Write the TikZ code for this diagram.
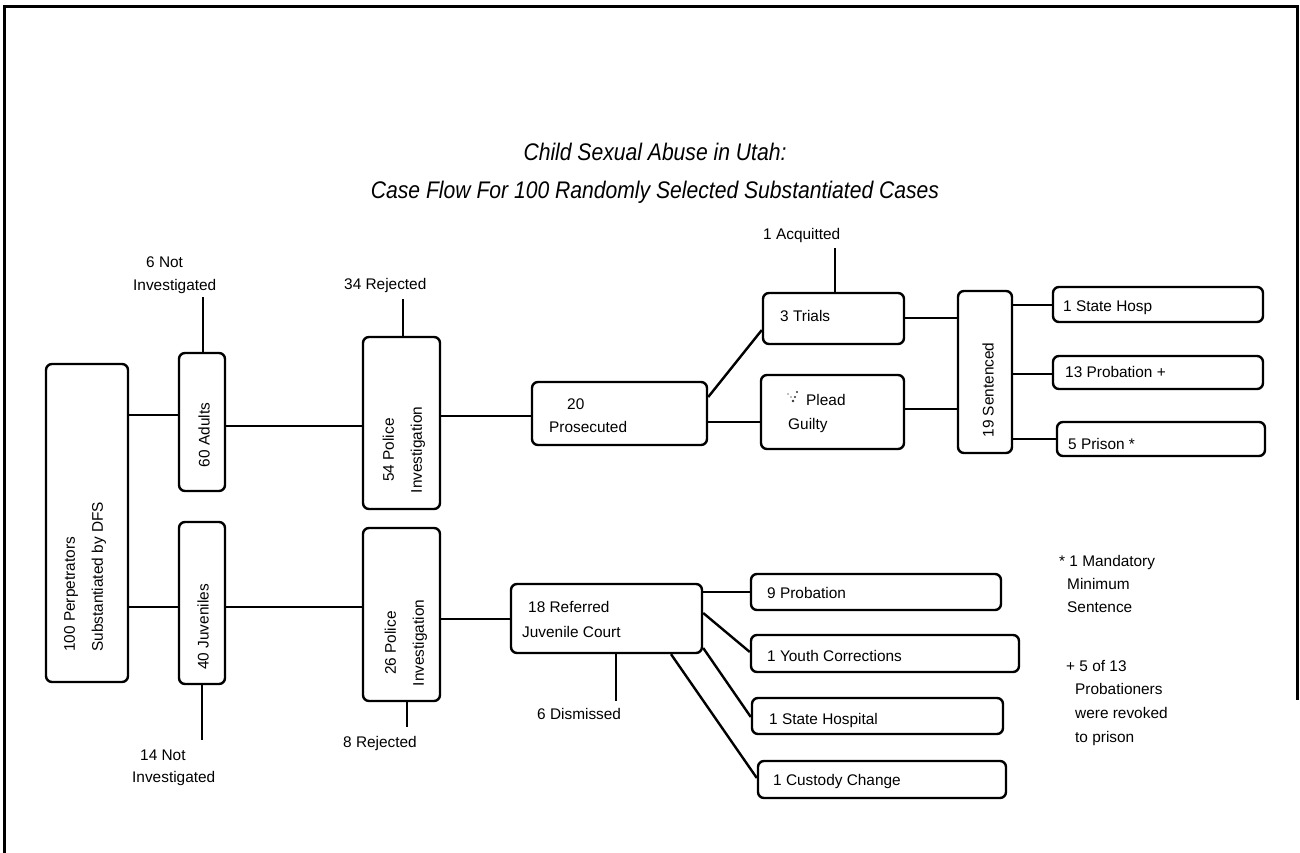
\documentclass[tikz,border=0pt]{standalone}
\usepackage{fontspec}
\setmainfont{Liberation Sans}
\usepackage{graphicx}
\begin{document}
\begin{tikzpicture}[x=1pt,y=-1pt,
  box/.style={draw, line width=2.4pt, rounded corners=6pt, inner sep=0pt},
  lbl/.style={inner sep=0pt, font=\fontsize{15.4}{18}\selectfont, text height=11pt, text depth=3pt},
  rlbl/.style={inner sep=0pt, font=\fontsize{15.4}{28}\selectfont, rotate=90, align=center},
  ttl/.style={inner sep=0pt, font=\fontsize{24}{28}\selectfont\itshape},
  con/.style={line width=2.4pt},
  frame/.style={line width=3pt}]
\useasboundingbox (0,0) rectangle (1300,853);
% frame
\coordinate (fa) at (4,853);
\coordinate (fb) at (4,7);
\coordinate (fc) at (1297,7);
\coordinate (fd) at (1297,700);
\draw[frame] (fa) -- (fb) -- (fc) -- (fd);

% title
\node[ttl] (t1) at (655,152) {\scalebox{0.88}[1]{Child Sexual Abuse in Utah:}};
\node[ttl] (t2) at (655,192) {\scalebox{0.88}[1]{Case Flow For 100 Randomly Selected Substantiated Cases}};

% boxes
\node[box, minimum width=82, minimum height=318] (perp) at (87,523) {};
\node[box, minimum width=46, minimum height=138] (adults) at (202,422) {};
\node[box, minimum width=46, minimum height=162] (juv) at (202,603) {};
\node[box, minimum width=77, minimum height=172] (pol1) at (401.5,423) {};
\node[box, minimum width=77, minimum height=173] (pol2) at (401.5,614.5) {};
\node[box, minimum width=175, minimum height=63] (pros) at (619.5,413.5) {};
\node[box, minimum width=141, minimum height=51] (trials) at (833.5,318.5) {};
\node[box, minimum width=143, minimum height=74] (plead) at (832.5,412) {};
\node[box, minimum width=54, minimum height=162] (sent) at (985,372) {};
\node[box, minimum width=210, minimum height=35] (hosp) at (1158,304.5) {};
\node[box, minimum width=210, minimum height=33] (prob) at (1158,372.5) {};
\node[box, minimum width=208, minimum height=34] (prison) at (1161,439) {};
\node[box, minimum width=191, minimum height=69] (juvc) at (606.5,618.5) {};
\node[box, minimum width=250, minimum height=36] (jprob) at (876,592) {};
\node[box, minimum width=268, minimum height=37] (youth) at (885,653.5) {};
\node[box, minimum width=251, minimum height=36] (shosp) at (877.5,716) {};
\node[box, minimum width=248, minimum height=37] (cust) at (882,779.5) {};

% rotated labels
\node[rlbl, align=left, anchor=west] (perpT) at (85,652) {100 Perpetrators\\Substantiated by DFS};
\node[rlbl] (adultsT) at (204,435) {60 Adults};
\node[rlbl] (juvT) at (203,627) {40 Juveniles};
\node[rlbl] (pol1T) at (404,450) {54 Police\\Investigation};
\node[rlbl] (pol2T) at (406,643) {26 Police\\Investigation};
\node[rlbl] (sentT) at (988,390) {19 Sentenced};

% box labels
\node[lbl, anchor=west] (prosA) at (567,405) {20};
\node[lbl, anchor=west] (prosB) at (549,428) {Prosecuted};
\node[lbl, anchor=west] (trialsT) at (780,317) {3 Trials};
\node[lbl, anchor=west] (pleadA) at (806,401) {Plead};
\node[lbl, anchor=west] (pleadB) at (788,425) {Guilty};
\node[lbl, anchor=west] (hospT) at (1063,307) {1 State Hosp};
\node[lbl, anchor=west] (probT) at (1065,373) {13 Probation +};
\node[lbl, anchor=west] (prisonT) at (1068,445) {5 Prison *};
\node[lbl, anchor=west] (juvcA) at (528,608) {18 Referred};
\node[lbl, anchor=west] (juvcB) at (522,633) {Juvenile Court};
\node[lbl, anchor=west] (jprobT) at (767,594) {9 Probation};
\node[lbl, anchor=west] (youthT) at (767,657) {1 Youth Corrections};
\node[lbl, anchor=west] (shospT) at (769,720) {1 State Hospital};
\node[lbl, anchor=west] (custT) at (773,781) {1 Custody Change};

% smudge in front of Plead
\fill[gray] (788,394) circle (0.9);
\fill[gray] (791,397) circle (0.8);
\fill[black!80] (797,392) circle (1.1);
\fill[black!80] (795,397) circle (1.1);
\fill[black!80] (793,401) circle (1.3);

% side labels
\node[lbl, anchor=west] (na1) at (146,263) {6 Not};
\node[lbl, anchor=west] (na2) at (133,286) {Investigated};
\node[lbl, anchor=west] (rej1) at (344,285) {34 Rejected};
\node[lbl, anchor=west] (acq) at (763,235) {1 Acquitted};
\node[lbl, anchor=west] (nb1) at (140,756) {14 Not};
\node[lbl, anchor=west] (nb2) at (132,778) {Investigated};
\node[lbl, anchor=west] (rej2) at (343,743) {8 Rejected};
\node[lbl, anchor=west] (dism) at (537,715) {6 Dismissed};

% footnotes
\node[lbl, anchor=west] (f1) at (1059,562) {* 1 Mandatory};
\node[lbl, anchor=west] (f2) at (1067,585) {Minimum};
\node[lbl, anchor=west] (f3) at (1067,608) {Sentence};
\node[lbl, anchor=west] (f4) at (1066,667) {+ 5 of 13};
\node[lbl, anchor=west] (f5) at (1075,690) {Probationers};
\node[lbl, anchor=west] (f6) at (1075,714) {were revoked};
\node[lbl, anchor=west] (f7) at (1075,738) {to prison};

% stub end points
\coordinate (sa) at (203,297);
\coordinate (sb) at (403,299);
\coordinate (sc) at (835,248);
\coordinate (sd) at (202,740);
\coordinate (se) at (407,727);
\coordinate (sf) at (616,701);

% connectors
\draw[con] (perp.east |- 0,415) -- (adults.west |- 0,415);
\draw[con] (perp.east |- 0,607) -- (juv.west |- 0,607);
\draw[con] (adults.east |- 0,426) -- (pol1.west |- 0,426);
\draw[con] (juv.east |- 0,607) -- (pol2.west |- 0,607);
\draw[con] (pol1.east |- 0,416) -- (pros.west |- 0,416);
\draw[con] (pol2.east |- 0,619) -- (juvc.west |- 0,619);
\draw[con] (pros.east |- 0,397) -- (trials.west |- 0,330);
\draw[con] (pros.east |- 0,422) -- (plead.west |- 0,422);
\draw[con] (trials.east |- 0,318) -- (sent.west |- 0,318);
\draw[con] (plead.east |- 0,409) -- (sent.west |- 0,409);
\draw[con] (sent.east |- 0,305) -- (hosp.west |- 0,305);
\draw[con] (sent.east |- 0,374) -- (prob.west |- 0,374);
\draw[con] (sent.east |- 0,439) -- (prison.west |- 0,439);
\draw[con] (juvc.east |- 0,592) -- (jprob.west |- 0,592);
\draw[con] (juvc.east |- 0,613) -- (youth.west |- 0,652);
\draw[con] (juvc.east |- 0,648) -- (shosp.west |- 0,717);
\draw[con] (671,0 |- juvc.south) -- (cust.west |- 0,778);
\draw[con] (adults.north -| sa) -- (sa);
\draw[con] (pol1.north -| sb) -- (sb);
\draw[con] (trials.north -| sc) -- (sc);
\draw[con] (juv.south -| sd) -- (sd);
\draw[con] (pol2.south -| se) -- (se);
\draw[con] (juvc.south -| sf) -- (sf);
\end{tikzpicture}
\end{document}
